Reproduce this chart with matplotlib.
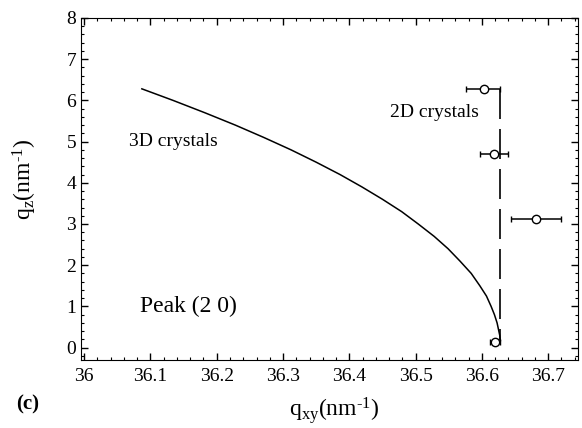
import numpy as np
import matplotlib
matplotlib.use("Agg")
import matplotlib.pyplot as plt
from matplotlib.ticker import MultipleLocator

plt.rcParams['font.family'] = ['Liberation Serif', 'DejaVu Serif']
plt.rcParams['mathtext.fontset'] = 'custom'
plt.rcParams['mathtext.rm'] = 'Liberation Serif'
plt.rcParams['mathtext.it'] = 'Liberation Serif:italic'

# 3D crystals curve (qz, qxy)
curve_qz = [6.28, 6.0, 5.7, 5.4, 5.1, 4.8, 4.5, 4.2, 3.9, 3.6, 3.3,
            3.0, 2.7, 2.4, 2.1, 1.8, 1.5, 1.25, 1.0, 0.8, 0.6, 0.45,
            0.3, 0.17]
curve_qxy = [36.087, 36.134, 36.182, 36.228, 36.271, 36.312, 36.350,
             36.386, 36.419, 36.450, 36.479, 36.504, 36.528, 36.549,
             36.567, 36.584, 36.597, 36.607, 36.614, 36.619, 36.623,
             36.625, 36.627, 36.628]

# measured peak positions with qxy error bars
pts_qxy = [36.603, 36.619, 36.682, 36.620]
pts_qz = [6.27, 4.70, 3.13, 0.14]
err_lo = [0.027, 0.022, 0.038, 0.008]
err_hi = [0.025, 0.021, 0.038, 0.007]

# 2D crystals: vertical line
rod_qxy = 36.628
rod_qz = [6.27, 0.14]

fig = plt.figure(figsize=(5.82, 4.28), dpi=100)
ax = fig.add_axes([0.139, 0.159, 0.854, 0.799])

ax.plot(curve_qxy, curve_qz, color='black', lw=1.1)
ax.plot([rod_qxy, rod_qxy], rod_qz, color='black', lw=1.2, dashes=(18, 6))
ax.errorbar(pts_qxy, pts_qz, xerr=[err_lo, err_hi], fmt='o', mfc='white',
            mec='black', ms=6, color='black', ecolor='black', elinewidth=1.1,
            capsize=2.5, capthick=1.0, mew=1.0)

ax.set_xlim(35.995, 36.745)
ax.set_ylim(-0.3, 8)
ax.xaxis.set_minor_locator(MultipleLocator(0.02))
ax.yaxis.set_major_locator(MultipleLocator(1))
ax.yaxis.set_minor_locator(MultipleLocator(0.2))
ax.set_xticks(np.arange(36.0, 36.71, 0.1))
ax.set_xticklabels(['36', '36.1', '36.2', '36.3', '36.4', '36.5', '36.6', '36.7'])
ax.tick_params(which='both', direction='in', top=True, right=True, labelsize=14)
ax.tick_params(which='major', length=5, width=1)
ax.tick_params(which='minor', length=2.5, width=0.8)
ax.tick_params(axis='x', pad=6)

ax.text(36.134, 5.0, '3D crystals', fontsize=14, ha='center', va='center')
ax.text(36.528, 5.7, '2D crystals', fontsize=14, ha='center', va='center')
ax.text(36.157, 1.0, 'Peak (2 0)', fontsize=17, ha='center', va='center')

fig.text(0.043, 0.58, r'q$_\mathrm{z}$(nm$^\text{-1}$)', fontsize=17,
         rotation=90, ha='center', va='center')
fig.text(0.575, 0.042, r'q$_\mathrm{xy}$(nm$^\text{-1}$)', fontsize=17,
         ha='center', va='center')
fig.text(0.048, 0.056, '(c)', fontsize=15, fontweight='bold',
         ha='center', va='center')

fig.savefig('out.png', dpi=100)
